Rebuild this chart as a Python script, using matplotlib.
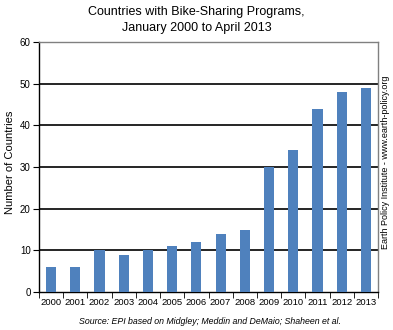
import matplotlib
matplotlib.use("Agg")
import matplotlib.pyplot as plt
import numpy as np

years = ["2000", "2001", "2002", "2003", "2004", "2005", "2006", "2007",
         "2008", "2009", "2010", "2011", "2012", "2013"]
countries = [6, 6, 10, 9, 10, 11, 12, 14, 15, 30, 34, 44, 48, 49]
yticks = [0, 10, 20, 30, 40, 50, 60]

plt.rcParams['font.family'] = ['Liberation Sans', 'DejaVu Sans']

fig = plt.figure(figsize=(3.93, 3.30), dpi=100)
ax = fig.add_axes([39/393, 38/330, (378-39)/393, (292-42)/330])

x = np.arange(len(years))
ax.bar(x, countries, width=0.42, color="#4F81BD", zorder=3)

ax.set_xlim(-0.5, len(years) - 0.5)
ax.set_ylim(0, 60)
ax.set_yticks(yticks)
ax.set_yticklabels([str(v) for v in yticks], fontsize=7)
ax.set_xticks(x)
ax.set_xticklabels(years, fontsize=6.8)
ax.set_xticks(np.arange(-0.5, len(years), 1), minor=True)
ax.tick_params(axis='x', which='major', length=0, pad=4)
ax.tick_params(axis='x', which='minor', length=4, direction='out', color='black')
ax.tick_params(axis='y', length=4, direction='out', color='black', pad=2)

for v in yticks[1:-1]:
    ax.axhline(v, color='black', lw=1.2, zorder=1)

for s in ['top', 'right']:
    ax.spines[s].set_color('#808080')
    ax.spines[s].set_linewidth(1.0)
ax.spines['left'].set_color('black')
ax.spines['bottom'].set_color('black')
ax.spines['left'].set_linewidth(1.0)
ax.spines['bottom'].set_linewidth(1.0)

ax.set_ylabel("Number of Countries", fontsize=8)
ax.yaxis.set_label_coords(-0.072, 0.52)

fig.text(0.5, 1 - 12/330, "Countries with Bike-Sharing Programs,", ha='center', va='center', fontsize=9)
fig.text(0.5, 1 - 28/330, "January 2000 to April 2013", ha='center', va='center', fontsize=9)
fig.text(210/393, 1 - 322/330, "Source: EPI based on Midgley; Meddin and DeMaio; Shaheen et al.",
         ha='center', va='center', fontsize=6.3, style='italic')
fig.text(386/393, 1 - 162/330, "Earth Policy Institute - www.earth-policy.org",
         ha='center', va='center', fontsize=6.5, rotation=90)

fig.savefig("out.png", dpi=100)
